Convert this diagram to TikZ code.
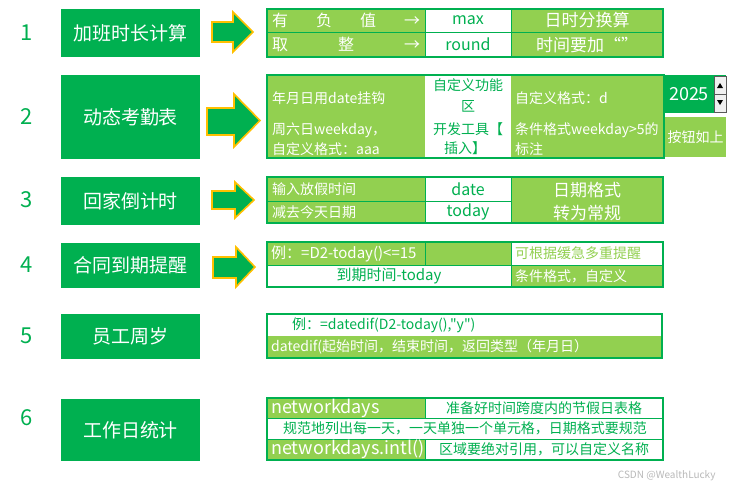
\documentclass[tikz,border=0pt]{standalone}
\usepackage{fontspec}
\setmainfont{Noto Sans CJK SC}[Ligatures=TeXOff]
\definecolor{xgreen}{HTML}{00B050}
\definecolor{xlight}{HTML}{92D050}
\definecolor{xorange}{HTML}{FFC000}

\begin{document}
\begin{tikzpicture}[x=1pt,y=-1pt,
  numlab/.style={text=xgreen,font=\fontsize{22}{22}\selectfont},
  titlebox/.style={fill=xgreen,text=white,minimum width=139pt,font=\fontsize{19}{19}\selectfont},
  lt/.style={fill=xlight},
  wt/.style={fill=white},
  outline/.style={draw=xgreen,line width=1.6pt},
  grid/.style={draw=xgreen,line width=0.8pt},
  fatarrow/.style={fill=xgreen,draw=xorange,line width=1.6pt,line join=miter},
  wtxt/.style={text=white,inner sep=0pt,font=\fontsize{#1}{#1}\selectfont},
  gtxt/.style={text=xgreen,inner sep=0pt,font=\fontsize{#1}{#1}\selectfont}]
  \useasboundingbox[fill=white] (0,0) rectangle (732,488);

  \node[numlab] (n1) at (27,33) {1};
  \node[numlab] (n2) at (27,117) {2};
  \node[numlab] (n3) at (27,200) {3};
  \node[numlab] (n4) at (27,265) {4};
  \node[numlab] (n5) at (27,336) {5};
  \node[numlab] (n6) at (27,418) {6};

  \node[titlebox,minimum height=48pt] (t1) at (130.5,33) {加班时长计算};
  \node[titlebox,minimum height=84pt] (t2) at (130.5,117) {动态考勤表};
  \node[titlebox,minimum height=48pt] (t3) at (130.5,201) {回家倒计时};
  \node[titlebox,minimum height=45pt] (t4) at (130.5,265.5) {合同到期提醒};
  \node[titlebox,minimum height=45pt] (t5) at (130.5,336.5) {员工周岁};
  \node[titlebox,minimum height=62pt] (t6) at (130.5,430) {工作日统计};

  \draw[fatarrow] (212,22) -- (233,22) -- (233,12) -- (253,32) -- (233,52) -- (233,42) -- (212,42) -- cycle;
  \draw[fatarrow] (207,108) -- (234,108) -- (234,94) -- (260,120.5) -- (234,147) -- (234,135) -- (207,135) -- cycle;
  \draw[fatarrow] (212,191) -- (235,191) -- (235,182) -- (254,200) -- (235,218) -- (235,209) -- (212,209) -- cycle;
  \draw[fatarrow] (213,257) -- (236,257) -- (236,247) -- (255,267) -- (236,287) -- (236,278) -- (213,278) -- cycle;

  % 1
  \fill[lt] (267,9) rectangle (425,57);
  \fill[wt] (425,9) rectangle (511,57);
  \fill[lt] (511,9) rectangle (663,57);
  \draw[grid] (267,32) -- (663,32) (425,9) -- (425,57) (511,9) -- (511,57);
  \draw[outline] (267,9) rectangle (663,57);
  \node[wtxt=16,anchor=west] (a1) at (272,20.5) {\makebox[148pt][l]{有\hfill 负\hfill 值\hfill →}};
  \node[wtxt=16,anchor=west] (a2) at (272,44.5) {\makebox[148pt][l]{取\hfill 整\hfill →}};
  \node[gtxt=16] (a3) at (468,20.5) {max};
  \node[gtxt=16] (a4) at (468,44.5) {round};
  \node[wtxt=17] (a5) at (587,20.5) {日时分换算};
  \node[wtxt=17] (a6) at (587,44.5) {时间要加“”};

  % 2
  \fill[lt] (267,75) rectangle (425,158);
  \fill[wt] (425,75) rectangle (511,158);
  \fill[lt] (511,75) rectangle (664,158);
  \draw[outline] (267,75) rectangle (664,158);
  \node[wtxt=14,anchor=west] (b1) at (272,98) {年月日用date挂钩};
  \node[wtxt=14,anchor=west] (b2) at (272,130) {周六日weekday，};
  \node[wtxt=14,anchor=west] (b3) at (272,149) {自定义格式：aaa};
  \node[gtxt=14] (b4) at (468,85) {自定义功能};
  \node[gtxt=14] (b5) at (468,106) {区};
  \node[gtxt=14] (b6) at (468,129) {开发工具【};
  \node[gtxt=14] (b7) at (465,148) {插入】};
  \node[wtxt=14,anchor=west] (b8) at (515,98) {自定义格式：d};
  \node[wtxt=14,anchor=west] (b9) at (515,130) {条件格式weekday>5的};
  \node[wtxt=14,anchor=west] (b10) at (515,149) {标注};
  \fill[xgreen] (664,75) rectangle (726,113);
  \node[wtxt=18] (year) at (689,94) {2025};
  \draw[fill=gray!12,draw=gray!70!black] (714,76) rectangle (726,94) (714,94) rectangle (726,112);
  \fill (717,88) -- (723,88) -- (720,83) -- cycle;
  \fill (717,100) -- (723,100) -- (720,105) -- cycle;
  \fill[lt] (665,117) rectangle (726,157);
  \node[wtxt=14] (btn) at (695.5,137) {按钮如上};

  % 3
  \fill[lt] (267,177) rectangle (425,223);
  \fill[wt] (425,177) rectangle (511,223);
  \fill[lt] (511,177) rectangle (663,223);
  \draw[grid] (267,201) -- (511,201) (425,177) -- (425,223) (511,177) -- (511,223);
  \draw[outline] (267,177) rectangle (663,223);
  \node[wtxt=14,anchor=west] (c1) at (272,189) {输入放假时间};
  \node[wtxt=14,anchor=west] (c2) at (272,212) {减去今天日期};
  \node[gtxt=16] (c3) at (468,189) {date};
  \node[gtxt=16] (c4) at (468,212) {today};
  \node[wtxt=17] (c5) at (587,190) {日期格式};
  \node[wtxt=17] (c6) at (587,213) {转为常规};

  % 4
  \fill[lt] (267,242) rectangle (511,265);
  \fill[wt] (511,242) rectangle (663,265);
  \fill[wt] (267,265) rectangle (511,287);
  \fill[lt] (511,265) rectangle (663,287);
  \draw[grid] (267,265) -- (663,265) (425,242) -- (425,265) (511,242) -- (511,287);
  \draw[outline] (267,242) rectangle (663,287);
  \node[wtxt=15,anchor=west] (d1) at (271,253.5) {例：=D2-today()<=15};
  \node[text=xlight,inner sep=0pt,font=\fontsize{14}{14}\selectfont,anchor=west] (d2) at (515,253.5) {可根据缓急多重提醒};
  \node[gtxt=15] (d3) at (389,276) {到期时间-today};
  \node[wtxt=14,anchor=west] (d4) at (515,276) {条件格式，自定义};

  % 5
  \fill[wt] (267,314) rectangle (662,336);
  \fill[lt] (267,336) rectangle (662,358);
  \draw[outline] (267,314) rectangle (662,358);
  \node[gtxt=14,anchor=west] (e1) at (292,325) {例：=datedif(D2-today(),"y")};
  \node[wtxt=14,anchor=west] (e2) at (271,347) {datedif(起始时间，结束时间，返回类型（年月日）};

  % 6
  \fill[lt] (267,398) rectangle (425,418);
  \fill[wt] (425,398) rectangle (663,418);
  \fill[wt] (267,418) rectangle (663,439);
  \fill[lt] (267,439) rectangle (425,460);
  \fill[wt] (425,439) rectangle (663,460);
  \draw[grid] (267,418) -- (663,418) (267,439) -- (663,439) (425,398) -- (425,418) (425,439) -- (425,460);
  \draw[outline] (267,398) rectangle (663,460);
  \node[wtxt=18,anchor=west] (f1) at (271,408) {networkdays};
  \node[gtxt=14] (f2) at (544,408) {准备好时间跨度内的节假日表格};
  \node[gtxt=14] (f3) at (465,428.5) {规范地列出每一天，一天单独一个单元格，日期格式要规范};
  \node[wtxt=18,anchor=west] (f4) at (271,449.5) {networkdays.intl()};
  \node[gtxt=14] (f5) at (544,449.5) {区域要绝对引用，可以自定义名称};

  \node[text=gray!55,font=\fontsize{10}{10}\selectfont,anchor=east] (mark) at (719,476) {CSDN @WealthLucky};
\end{tikzpicture}
\end{document}
